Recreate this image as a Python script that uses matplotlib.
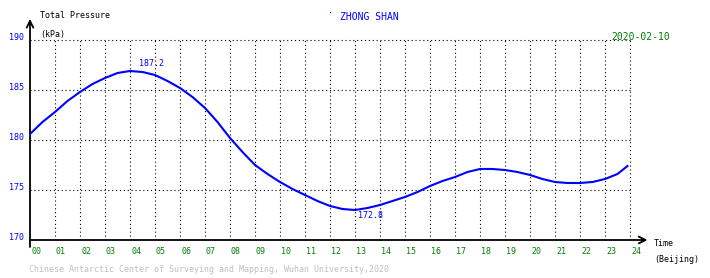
import matplotlib
matplotlib.use("Agg")
import matplotlib.pyplot as plt

# hourly / half-hourly readings of total pressure (kPa), Zhong Shan 2020-02-10
hours = [0, 0.5, 1, 1.5, 2, 2.5, 3, 3.5, 4, 4.5, 5, 5.5, 6, 6.5, 7, 7.5, 8,
         8.5, 9, 9.5, 10, 10.5, 11, 11.5, 12, 12.5, 13, 13.5, 14, 14.5, 15,
         15.5, 16, 16.5, 17, 17.5, 18, 18.5, 19, 19.5, 20, 20.5, 21, 21.5,
         22, 22.5, 23, 23.5, 23.9]
pressure = [180.6, 181.8, 182.8, 183.9, 184.8, 185.6, 186.2, 186.7, 186.9,
            186.8, 186.5, 185.9, 185.2, 184.3, 183.2, 181.8, 180.2, 178.8,
            177.5, 176.6, 175.8, 175.1, 174.5, 173.9, 173.4, 173.1, 173.0,
            173.2, 173.5, 173.9, 174.3, 174.8, 175.4, 175.9, 176.3, 176.8,
            177.1, 177.1, 177.0, 176.8, 176.5, 176.1, 175.8, 175.7, 175.7,
            175.8, 176.1, 176.6, 177.4]
x_labels = ["%02d" % h for h in range(25)]
y_ticks = [170, 175, 180, 185, 190]
max_label = ("187.2", 4.36, 187.7)
min_label = ("172.8", 13.12, 172.5)

W, H = 710, 278
blue = (0, 0, 1)
green = (0, 0.5, 0)
mono = "DejaVu Sans Mono"

fig = plt.figure(figsize=(W / 100, H / 100), dpi=100)
ax = fig.add_axes([30 / W, 38 / H, 600 / W, 200 / H])
ax.set_xlim(0, 24)
ax.set_ylim(170, 190)
for s in ax.spines.values():
    s.set_visible(False)
ax.set_xticks([])
ax.set_yticks([])

# dotted grid
for h in range(1, 25):
    ax.plot([h, h], [170, 190], color="black", lw=0.8,
            dashes=(1, 2.5), clip_on=False)
for v in y_ticks[1:]:
    ax.plot([0, 24], [v, v], color="black", lw=0.8,
            dashes=(1, 2.5), clip_on=False)

# axes with arrows
arrow = dict(arrowstyle="->", color="black", lw=1.3,
             shrinkA=0, shrinkB=0, mutation_scale=12)
ax.annotate("", xy=(0, 192.1), xytext=(0, 169.3), arrowprops=arrow,
            annotation_clip=False)
ax.annotate("", xy=(24.7, 170), xytext=(0, 170), arrowprops=arrow,
            annotation_clip=False)

ax.plot(hours, pressure, color=blue, lw=1.5, zorder=3)

# tick labels
for v in y_ticks:
    ax.text(-0.22, v + 0.25, str(v), color=blue, fontsize=6, family=mono,
            ha="right", va="center")
for i, lab in enumerate(x_labels):
    ax.text(i + 0.04, 168.8, lab, color=green, fontsize=6, family=mono,
            ha="left", va="center")

ax.text(max_label[1], max_label[2], max_label[0], color=blue, fontsize=6,
        family=mono, ha="left", va="center")
ax.text(min_label[1], min_label[2], min_label[0], color=blue, fontsize=6,
        family=mono, ha="left", va="center")


def ftext(x, y, s, **kw):
    fig.text(x / W, 1 - y / H, s, family=mono, va="center", **kw)


ftext(40, 16, "Total Pressure", fontsize=6, color="black")
ftext(40, 35, "(kPa)", fontsize=6, color="black")
ftext(328, 14, "·", fontsize=6, color=blue)
ftext(340, 16.5, "ZHONG SHAN", fontsize=7, color=blue)
ftext(611, 37, "2020-02-10", fontsize=7, color=green)
ftext(654, 244, "Time", fontsize=6, color="black")
ftext(654, 260, "(Beijing)", fontsize=6, color="black")
ftext(29, 270, "Chinese Antarctic Center of Surveying and Mapping, "
      "Wuhan University,2020", fontsize=6, color=(0.75, 0.75, 0.75))

fig.savefig("out.png", dpi=100)
